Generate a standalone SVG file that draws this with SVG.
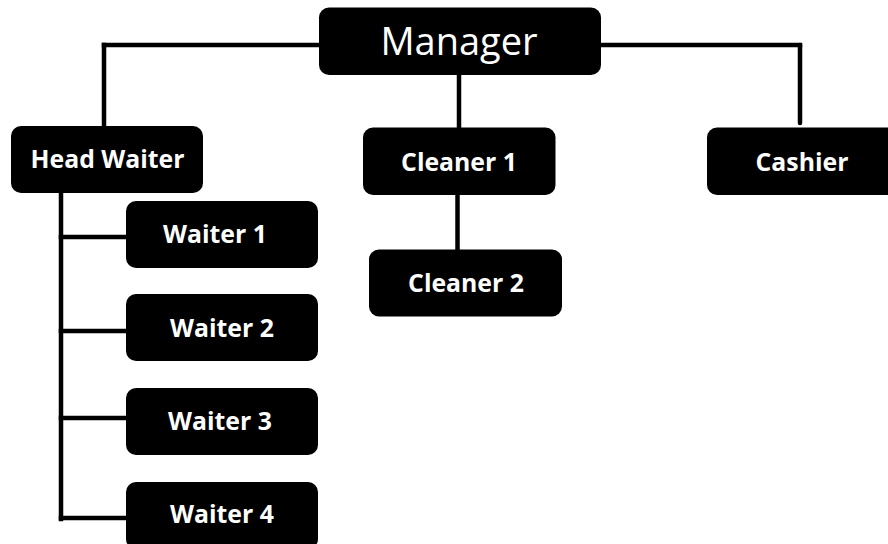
<svg xmlns="http://www.w3.org/2000/svg" width="888" height="544" viewBox="0 0 888 544">
<style>
.box{fill:#000}
.t{fill:#fff;font-family:"Open Sans","Liberation Sans",sans-serif;font-weight:700;font-size:24.8px;text-anchor:middle}
.tm{fill:#fff;font-family:"Open Sans","Liberation Sans",sans-serif;font-weight:400;font-size:38px;text-anchor:middle}
.c{stroke:#000;stroke-width:4.5;fill:none;stroke-linecap:square}
</style>
<rect width="888" height="544" fill="#fff"/>
<g id="connectors">
<path class="c" d="M104 45 H319"/>
<path class="c" d="M104 45 V126"/>
<path class="c" d="M601 45 H800"/>
<path d="M800 45 V123" stroke="#000" stroke-width="4.5" stroke-linecap="round" fill="none"/>
<path class="c" d="M459 75 V127"/>
<path class="c" d="M457.5 195 V249"/>
<path class="c" d="M61 193 V519"/>
<path class="c" d="M61 237 H126"/>
<path class="c" d="M61 331 H126"/>
<path class="c" d="M61 418 H126"/>
<path class="c" d="M61 518 H126"/>
</g>
<g id="manager"><rect class="box" x="319" y="7.5" width="282" height="67.5" rx="10"/><text class="tm" x="459" y="55">Manager</text></g>
<g id="head-waiter"><rect class="box" x="11" y="126" width="192" height="67" rx="10"/><text class="t" x="107.5" y="168">Head Waiter</text></g>
<g id="cleaner-1"><rect class="box" x="363" y="127.5" width="192.5" height="67.5" rx="10"/><text class="t" x="459" y="171">Cleaner 1</text></g>
<g id="cashier"><rect class="box" x="707" y="127.5" width="192" height="67.5" rx="10"/><text class="t" x="802" y="171">Cashier</text></g>
<g id="cleaner-2"><rect class="box" x="369" y="249.5" width="193" height="67" rx="10"/><text class="t" x="466" y="292">Cleaner 2</text></g>
<g id="waiter-1"><rect class="box" x="126" y="201" width="192" height="67" rx="10"/><text class="t" x="215" y="243">Waiter 1</text></g>
<g id="waiter-2"><rect class="box" x="126" y="294" width="192" height="67" rx="10"/><text class="t" x="222" y="337">Waiter 2</text></g>
<g id="waiter-3"><rect class="box" x="126" y="388" width="192" height="67" rx="10"/><text class="t" x="220" y="430">Waiter 3</text></g>
<g id="waiter-4"><rect class="box" x="126" y="482" width="192" height="67" rx="10"/><text class="t" x="222" y="523">Waiter 4</text></g>
</svg>
